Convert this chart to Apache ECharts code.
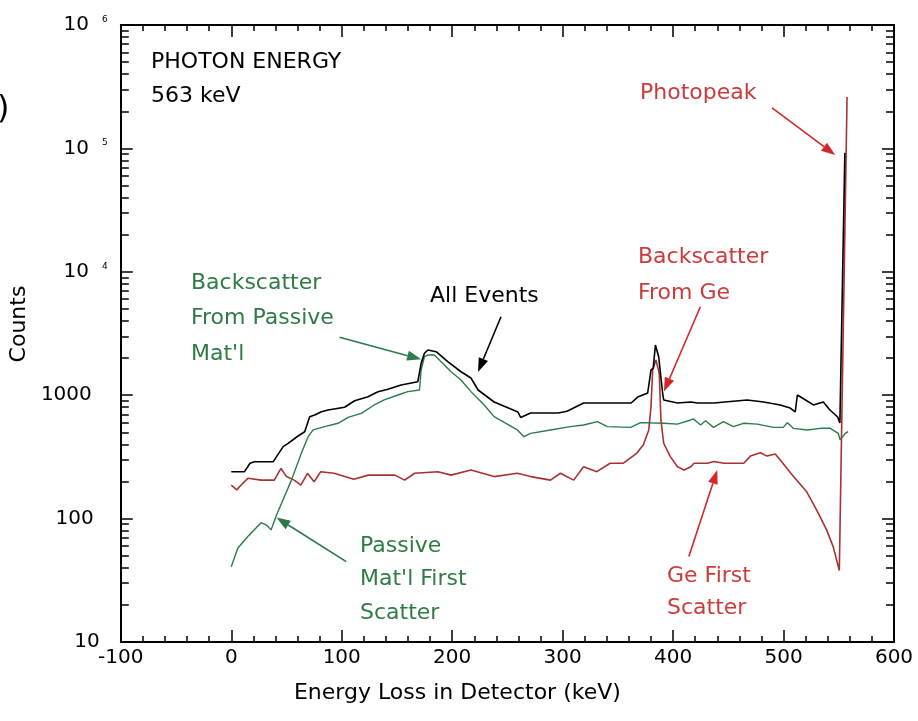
<!DOCTYPE html>
<html><head><meta charset="utf-8">
<script src="https://cdn.jsdelivr.net/npm/echarts@6/dist/echarts.min.js"></script>
<style>html,body{margin:0;padding:0;background:#fff}#c{width:918px;height:721px}</style>
</head><body><div id="c"></div>
<script>
// ---- data (x = energy loss keV, y = counts) ----
const allEvents = [[0,240],[12,240],[17,281],[21,289],[38,289],[41,318],[47,383],[51.5,407],[60.5,467],[66.5,506],[71,670],[75.5,692],[81.6,735],[87.6,759],[102.6,798],[111.7,902],[123.8,972],[132.8,1067],[141.8,1116],[153.8,1210],[168.9,1286],[171.9,1814],[174.9,2186],[178,2324],[185.5,2253],[196,1868],[208,1549],[217,1378],[223.5,1102],[238,881],[259.5,731],[262,660],[271,717],[296,717],[304,740],[319,865],[332,865],[362,865],[368,966],[377,1042],[380,1600],[382,1650],[384,2552],[387,2040],[390.5,1042],[391.5,915],[404,865],[416,881],[422,865],[437,865],[467,915],[482,881],[497,834],[506,787],[510.6,731],[512.5,1004],[517,949],[527,834],[536,881],[542,759],[549,666],[551,596],[555.5,92000]];
const passiveMat = [[0,40.7],[6,57.8],[15,71.5],[27,92.7],[32,88.7],[36,81],[41,107],[54.5,205],[63.5,340],[69.6,461],[74.1,523],[84.6,556],[96.7,592],[105.7,662],[117.7,713],[129.5,833],[138.5,915],[150.9,1004],[159.9,1069],[170.4,1102],[171.9,1600],[174.9,2050],[178,2117],[183.9,2117],[190,1868],[199,1550],[208,1327],[217,1069],[229,834],[238,670],[259,523],[265,461],[271,491],[289,523],[307,556],[319,574],[331.5,610],[340.5,556],[361.6,549],[370.5,600],[391.7,592],[403.8,583],[416,630],[418.5,641],[424.9,574],[429.4,621],[436.6,549],[445.6,610],[454.6,556],[463.7,592],[476.3,583],[490.8,549],[499.8,549],[503.4,600],[508.8,539],[521.5,523],[533.2,539],[542.3,539],[549.5,491],[551.3,434],[555.8,491],[558.5,506]];
const geDetector = [[0,187],[5,171],[9,187],[15,212],[27,205],[39,205],[45,255],[50,219],[57,205],[63,187],[69,233],[75,199],[81,240],[93,233],[111,208],[124,225],[148,225],[157,205],[166,233],[187,240],[199,225],[217,248],[238,219],[259,233],[271,219],[289,205],[298,233],[310,205],[319,263],[331,240],[343,281],[355,281],[367,338],[373,395],[378,523],[380,807],[381.5,1600],[384.5,1928],[387.5,1503],[389,630],[391.5,408],[397.5,318],[404,263],[410,248],[416,263],[419,281],[431,281],[437,290],[446,281],[464,281],[470,321],[479,342],[485,321],[492.5,334],[497,298],[509,219],[521,165],[530,117],[539,81],[545,59],[550.5,38],[557.5,261000]];
const xTickLabels = [-100,0,100,200,300,400,500,600];
const yDecades = [10,100,1000,10000,100000,1000000];

// ---- styles ----
const FONT = 'DejaVu Sans';
const BLACK = '#000000';
const GREEN_L = '#2b7a4b';
const GREEN_T = '#2f7b45';
const RED_L = '#a83232';
const RED_T = '#cc3b3b';
const RED_A = '#d42626';

// annotations
const notes = [
  {text:'PHOTON ENERGY\n563 keV', x:151, y:62, lh:34, color:BLACK},
  {text:'Photopeak', x:640, y:93, lh:34, color:RED_T},
  {text:'Backscatter\nFrom Ge', x:638, y:257, lh:36, color:RED_T},
  {text:'Ge First\nScatter', x:667, y:576, lh:32.5, color:RED_T},
  {text:'All Events', x:430, y:296, lh:34, color:BLACK},
  {text:"Backscatter\nFrom Passive\nMat'l", x:191, y:283, lh:35.5, color:GREEN_T},
  {text:"Passive\nMat'l First\nScatter", x:360, y:546, lh:33.5, color:GREEN_T}
];
const arrows = [
  {from:[489.6,213000], to:[546.8,88400], color:RED_A},
  {from:[424.7,5213], to:[391.7,1069], color:RED_A},
  {from:[414.3,49.2], to:[440,248], color:RED_A},
  {from:[244.2,4325], to:[223.4,1542], color:BLACK},
  {from:[98.1,2944], to:[171.9,1954], color:GREEN_L},
  {from:[104.1,44.8], to:[40.9,102], color:GREEN_L}
];

// minor log ticks (2..9 x 10^k) for left and right axes
const minorY = [];
for (let k = 1; k <= 5; k++) for (let m = 2; m <= 9; m++) minorY.push(m * Math.pow(10, k));

const chart = echarts.init(document.getElementById('c'), null, {renderer:'canvas'});

const xCommon = {
  type:'value', min:-100, max:600, interval:100,
  axisLine:{show:true, onZero:false, lineStyle:{color:'#000', width:2}},
  axisTick:{show:true, inside:true, length:12, lineStyle:{color:'#000', width:1.5}},
  minorTick:{show:true, splitNumber:5, length:6, lineStyle:{color:'#000', width:1.5}},
  splitLine:{show:false}, minorSplitLine:{show:false}
};
const yCommon = {
  type:'log', logBase:10, min:10, max:1000000,
  axisLine:{show:true, onZero:false, lineStyle:{color:'#000', width:2}},
  axisTick:{show:true, inside:true, length:12, lineStyle:{color:'#000', width:1.5}},
  minorTick:{show:false},
  splitLine:{show:false}
};
const yMinor = {
  type:'log', logBase:10, min:10, max:1000000,
  axisLine:{show:false, onZero:false},
  axisTick:{show:true, inside:true, length:8, customValues:minorY, lineStyle:{color:'#000', width:1.5}},
  axisLabel:{show:false},
  minorTick:{show:false},
  splitLine:{show:false}
};

function yLabel(v) {
  const e = Math.round(Math.log10(v));
  if (e >= 4) return '{p|10}{s|' + e + '}';
  if (e === 3) return '{n4|' + v + '}';
  if (e === 2) return '{n3|' + v + '}';
  return '{n2|' + v + '}';
}
const lab = {fontFamily:FONT, fontSize:20, color:'#000'};

chart.setOption({
  animation:false,
  backgroundColor:'#fff',
  grid:{left:119, right:24, top:25, bottom:79, containLabel:false},
  xAxis:[
    Object.assign({}, xCommon, {
      position:'bottom',
      axisLabel:{show:true, margin:6, fontFamily:FONT, fontSize:20, color:'#000',
        formatter: v => xTickLabels.indexOf(v) >= 0 ? String(v) : ''},
      name:'Energy Loss in Detector (keV)', nameLocation:'middle', nameGap:40,
      nameTextStyle:{fontFamily:FONT, fontSize:22, color:'#000', padding:[0,100,0,0]}
    }),
    Object.assign({}, xCommon, {position:'top', axisLabel:{show:false}})
  ],
  yAxis:[
    Object.assign({}, yCommon, {
      position:'left',
      axisLabel:{show:true, margin:13, formatter:yLabel,
        rich:{
          p:lab,
          s:{fontFamily:FONT, fontSize:9, color:'#000', padding:[0,0,0,13], verticalAlign:'top'},
          n4:Object.assign({}, lab, {padding:[0,16,0,0]}),
          n3:Object.assign({}, lab, {padding:[0,14,0,0]}),
          n2:Object.assign({}, lab, {padding:[0,8,0,0]})
        }},
      name:'Counts', nameLocation:'middle', nameGap:81, nameRotate:90,
      nameTextStyle:{fontFamily:FONT, fontSize:22, color:'#000', padding:[0,0,0,19]}
    }),
    Object.assign({}, yCommon, {position:'right', axisLabel:{show:false}}),
    Object.assign({}, yMinor, {position:'left', offset:0}),
    Object.assign({}, yMinor, {position:'right', offset:0})
  ],
  series:[
    {name:'Ge First Scatter', type:'line', xAxisIndex:0, yAxisIndex:0, data:geDetector,
      showSymbol:false, lineStyle:{color:RED_L, width:1.6}, silent:true, z:3},
    {name:"Passive Mat'l", type:'line', xAxisIndex:0, yAxisIndex:0, data:passiveMat,
      showSymbol:false, lineStyle:{color:GREEN_L, width:1.4}, silent:true, z:4},
    {name:'All Events', type:'line', xAxisIndex:0, yAxisIndex:0, data:allEvents,
      showSymbol:false, lineStyle:{color:BLACK, width:1.6}, silent:true, z:5}
  ]
});

// annotations: texts + arrows (arrows placed through the axis scales)
const g = [];
notes.forEach(n => {
  g.push({type:'text', x:n.x, y:n.y - n.lh / 2, silent:true, z:10,
    style:{text:n.text, fontFamily:FONT, fontSize:22, fill:n.color, lineHeight:n.lh,
      align:'left', verticalAlign:'top'}});
});
arrows.forEach(a => {
  const s = chart.convertToPixel({gridIndex:0}, a.from);
  const t = chart.convertToPixel({gridIndex:0}, a.to);
  const dx = t[0] - s[0], dy = t[1] - s[1];
  const len = Math.hypot(dx, dy);
  const ux = dx / len, uy = dy / len;
  const L = 14, W = 5;
  const bx = t[0] - ux * L, by = t[1] - uy * L;
  g.push({type:'line', silent:true, z:10, shape:{x1:s[0], y1:s[1], x2:bx, y2:by},
    style:{stroke:a.color, lineWidth:1.6}});
  g.push({type:'polygon', silent:true, z:10,
    shape:{points:[[t[0], t[1]], [bx - uy * W, by + ux * W], [bx + uy * W, by - ux * W]]},
    style:{fill:a.color}});
});
g.push({type:'text', x:-3, y:110, silent:true,
  style:{text:')', fontFamily:FONT, fontSize:32, fill:'#000', verticalAlign:'middle'}});
chart.setOption({graphic:g});
</script>
</body></html>
